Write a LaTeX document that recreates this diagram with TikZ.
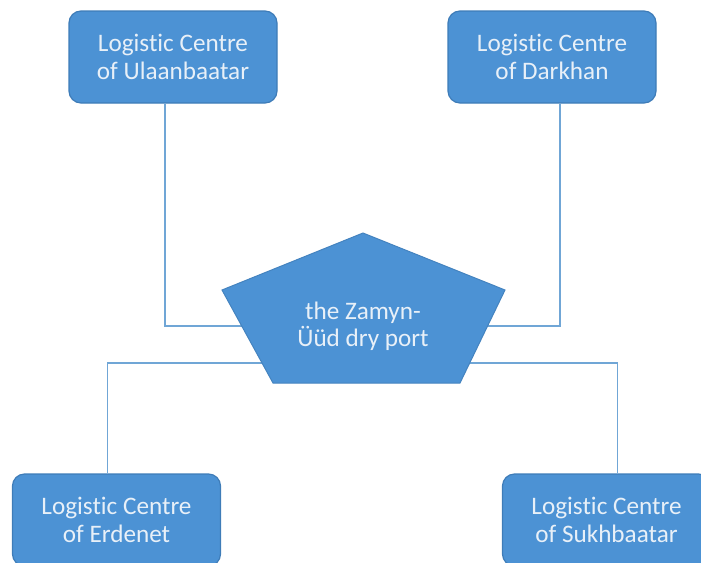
\documentclass[tikz,border=0pt]{standalone}
\usepackage{fontspec}
\setmainfont{Carlito}[Ligatures={NoCommon}]
\usetikzlibrary{calc}
\usetikzlibrary{positioning}
\definecolor{boxblue}{RGB}{76,146,212}
\definecolor{boxedge}{RGB}{62,124,184}
\definecolor{linkblue}{RGB}{112,166,214}
\definecolor{labelwhite}{RGB}{232,240,248}

\begin{document}
\begin{tikzpicture}[x=0.5pt,y=-0.5pt,
  centre/.style={draw=boxedge, fill=boxblue, line width=0.6pt, rounded corners=6pt,
    minimum width=104pt, minimum height=46pt, align=center, text=labelwhite,
    font=\fontsize{12.6}{13.6}\selectfont},
  portlabel/.style={align=center, text=labelwhite, font=\fontsize{12.6}{13.6}\selectfont},
  link/.style={draw=linkblue, line width=0.9pt}
  ]
\useasboundingbox (0,0) rectangle (701,562);

\node[centre] (ulaanbaatar) at (173,57) {Logistic Centre\\of Ulaanbaatar};
\node[centre] (darkhan) at (552,57) {Logistic Centre\\of Darkhan};
\node[centre] (erdenet) at (116.5,520) {Logistic Centre\\of Erdenet};
\node[centre] (sukhbaatar) at (606.5,520) {Logistic Centre\\of Sukhbaatar};

\coordinate (hub) at (363,326);

\draw[link] ([xshift=-4pt]ulaanbaatar.south) |- (hub);
\draw[link] ([xshift=4pt]darkhan.south) |- (hub);
\draw[link] ([yshift=-18.5pt]hub) -| ([xshift=-4.5pt]erdenet.north);
\draw[link] ([yshift=-18.5pt]hub) -| ([xshift=5.5pt]sukhbaatar.north);

\filldraw[draw=boxblue!90!black, fill=boxblue, line width=0.5pt]
  (363,233) -- (505,290) -- (460,383) -- (273,383) -- (222,290) -- cycle;

\node[portlabel] (port) at (hub) {the Zamyn-\\Üüd dry port};
\end{tikzpicture}
\end{document}
